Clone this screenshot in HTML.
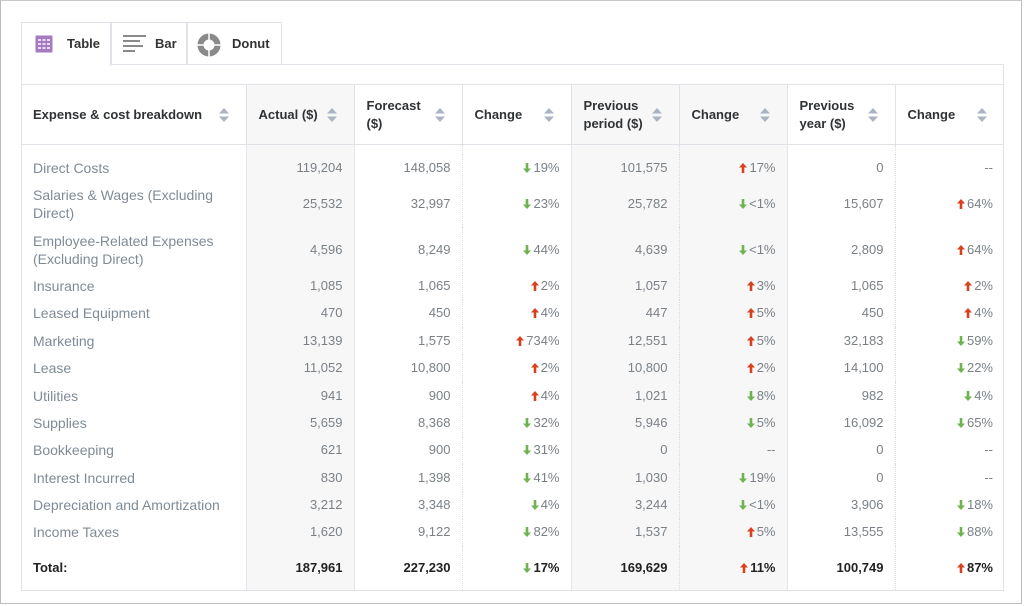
<!DOCTYPE html>
<html><head><meta charset="utf-8"><style>
*{box-sizing:border-box;margin:0;padding:0}
body{width:1024px;height:606px;background:#fff;position:relative;overflow:hidden;font-family:"Liberation Sans",sans-serif}
.frame{position:absolute;left:0;top:0;width:1022px;height:604px;border:1px solid #bdbdbd;border-top-color:#c8c8c8}
.panel{position:absolute;left:21px;top:64px;width:983px;height:527px;border:1px solid #dfe3e8}
.tab{position:absolute;top:22px;height:43px;border:1px solid #dfe3e8;border-bottom:none;background:#fff;font-size:13px;font-weight:bold;color:#333;line-height:42px}
.tab.off{border-bottom:1px solid #dfe3e8;height:43px;background:#fff}
table{position:absolute;left:21px;top:84px;width:983px;border-collapse:collapse;table-layout:fixed;font-size:13px}
th{height:60px;border-top:1px solid #dfe3e8;border-bottom:1px solid #dfe3e8;border-left:1px solid #dfe3e8;text-align:left;font-weight:bold;color:#2f3335;padding:0 30px 0 12px;position:relative;line-height:18px;font-size:13px}
th:first-child{border-left:none}
th .s{position:absolute;right:17px;top:23px;width:10px;height:14px}
td{text-align:right;color:#7a8186;padding:0 11px 0 8px;border-left:1px solid #e3e6ea;line-height:18px}
td:first-child{text-align:left;border-left:none;color:#7f8b96;padding-left:12px;padding-right:4px;font-size:14px}
td.d{border-left:1px dotted #d8dcdf}
.sh{background:#f7f7f8}
tr.t td{font-weight:bold;color:#222;height:44px}
tr.t td:first-child{font-size:13px}
.u,.dn{display:inline-block;width:8px;height:10px;margin-right:2px;vertical-align:-1px}
</style></head><body>
<div class="frame"></div>
<div class="panel"></div>
<div class="tab" style="left:21px;width:90px;border-bottom:none;height:44px">
<svg style="position:absolute;left:13px;top:12px" width="18" height="18"><rect x="0.5" y="0.5" width="17" height="17" fill="#a47bc0"/><g fill="#e9dcf2"><rect x="3" y="4" width="3" height="2"/><rect x="7.5" y="4" width="3" height="2"/><rect x="12" y="4" width="3" height="2"/><rect x="3" y="8" width="3" height="2"/><rect x="7.5" y="8" width="3" height="2"/><rect x="12" y="8" width="3" height="2"/><rect x="3" y="12" width="3" height="2"/><rect x="7.5" y="12" width="3" height="2"/><rect x="12" y="12" width="3" height="2"/></g></svg>
<span style="position:absolute;left:45px">Table</span></div>
<div class="tab off" style="left:111px;width:76px">
<svg style="position:absolute;left:11px;top:12px" width="24" height="18"><g fill="#8a8a8a"><rect x="0" y="0" width="23" height="2"/><rect x="0" y="5" width="17" height="2"/><rect x="0" y="10" width="20" height="2"/><rect x="0" y="15" width="12" height="2"/></g></svg>
<span style="position:absolute;left:43px">Bar</span></div>
<div class="tab off" style="left:187px;width:95px">
<svg style="position:absolute;left:9px;top:10px" width="24" height="24"><circle cx="12" cy="12" r="8.5" fill="none" stroke="#8a8a8a" stroke-width="6"/><g stroke="#fff" stroke-width="1.5"><line x1="12" y1="0" x2="12" y2="7"/><line x1="12" y1="17" x2="12" y2="24"/><line x1="0" y1="12" x2="7" y2="12"/><line x1="17" y1="12" x2="24" y2="12"/></g></svg>
<span style="position:absolute;left:44px">Donut</span></div>
<svg width="0" height="0" style="position:absolute"><defs>
<symbol id="up" viewBox="0 0 8 10"><path d="M4 0 L8 4.5 L5.3 4.5 L5.3 10 L2.7 10 L2.7 4.5 L0 4.5Z" fill="#d8411e"/></symbol>
<symbol id="dw" viewBox="0 0 8 10"><path d="M4 10 L8 5.5 L5.3 5.5 L5.3 0 L2.7 0 L2.7 5.5 L0 5.5Z" fill="#6fb350"/></symbol>
<symbol id="so" viewBox="0 0 10 14"><path d="M5 0 L10 5.5 L0 5.5Z M5 14 L10 8.5 L0 8.5Z" fill="#aab4c2"/></symbol>
</defs></svg>
<table>
<colgroup><col style="width:225px"><col style="width:108px"><col style="width:108px"><col style="width:109px"><col style="width:108px"><col style="width:108px"><col style="width:108px"><col style="width:109px"></colgroup>
<tr>
<th>Expense &amp; cost breakdown<svg class="s"><use href="#so"/></svg></th>
<th class="sh">Actual ($)<svg class="s"><use href="#so"/></svg></th>
<th>Forecast ($)<svg class="s"><use href="#so"/></svg></th>
<th>Change<svg class="s"><use href="#so"/></svg></th>
<th class="sh">Previous period ($)<svg class="s"><use href="#so"/></svg></th>
<th class="sh">Change<svg class="s"><use href="#so"/></svg></th>
<th>Previous year ($)<svg class="s"><use href="#so"/></svg></th>
<th>Change<svg class="s"><use href="#so"/></svg></th>
</tr>
<tr style="height:10px"><td></td><td class="sh"></td><td></td><td class="d"></td><td class="sh"></td><td class="sh d"></td><td></td><td class="d"></td></tr>
<tr style="height:27px"><td>Direct Costs</td><td class="sh">119,204</td><td>148,058</td><td class="d"><svg class="dn"><use href="#dw"/></svg>19%</td><td class="sh">101,575</td><td class="sh d"><svg class="u"><use href="#up"/></svg>17%</td><td>0</td><td class="d">--</td></tr>
<tr style="height:45px"><td>Salaries &amp; Wages (Excluding Direct)</td><td class="sh">25,532</td><td>32,997</td><td class="d"><svg class="dn"><use href="#dw"/></svg>23%</td><td class="sh">25,782</td><td class="sh d"><svg class="dn"><use href="#dw"/></svg>&lt;1%</td><td>15,607</td><td class="d"><svg class="u"><use href="#up"/></svg>64%</td></tr>
<tr style="height:46px"><td>Employee-Related Expenses (Excluding Direct)</td><td class="sh">4,596</td><td>8,249</td><td class="d"><svg class="dn"><use href="#dw"/></svg>44%</td><td class="sh">4,639</td><td class="sh d"><svg class="dn"><use href="#dw"/></svg>&lt;1%</td><td>2,809</td><td class="d"><svg class="u"><use href="#up"/></svg>64%</td></tr>
<tr style="height:27px"><td>Insurance</td><td class="sh">1,085</td><td>1,065</td><td class="d"><svg class="u"><use href="#up"/></svg>2%</td><td class="sh">1,057</td><td class="sh d"><svg class="u"><use href="#up"/></svg>3%</td><td>1,065</td><td class="d"><svg class="u"><use href="#up"/></svg>2%</td></tr>
<tr style="height:27px"><td>Leased Equipment</td><td class="sh">470</td><td>450</td><td class="d"><svg class="u"><use href="#up"/></svg>4%</td><td class="sh">447</td><td class="sh d"><svg class="u"><use href="#up"/></svg>5%</td><td>450</td><td class="d"><svg class="u"><use href="#up"/></svg>4%</td></tr>
<tr style="height:28px"><td>Marketing</td><td class="sh">13,139</td><td>1,575</td><td class="d"><svg class="u"><use href="#up"/></svg>734%</td><td class="sh">12,551</td><td class="sh d"><svg class="u"><use href="#up"/></svg>5%</td><td>32,183</td><td class="d"><svg class="dn"><use href="#dw"/></svg>59%</td></tr>
<tr style="height:27px"><td>Lease</td><td class="sh">11,052</td><td>10,800</td><td class="d"><svg class="u"><use href="#up"/></svg>2%</td><td class="sh">10,800</td><td class="sh d"><svg class="u"><use href="#up"/></svg>2%</td><td>14,100</td><td class="d"><svg class="dn"><use href="#dw"/></svg>22%</td></tr>
<tr style="height:28px"><td>Utilities</td><td class="sh">941</td><td>900</td><td class="d"><svg class="u"><use href="#up"/></svg>4%</td><td class="sh">1,021</td><td class="sh d"><svg class="dn"><use href="#dw"/></svg>8%</td><td>982</td><td class="d"><svg class="dn"><use href="#dw"/></svg>4%</td></tr>
<tr style="height:27px"><td>Supplies</td><td class="sh">5,659</td><td>8,368</td><td class="d"><svg class="dn"><use href="#dw"/></svg>32%</td><td class="sh">5,946</td><td class="sh d"><svg class="dn"><use href="#dw"/></svg>5%</td><td>16,092</td><td class="d"><svg class="dn"><use href="#dw"/></svg>65%</td></tr>
<tr style="height:27px"><td>Bookkeeping</td><td class="sh">621</td><td>900</td><td class="d"><svg class="dn"><use href="#dw"/></svg>31%</td><td class="sh">0</td><td class="sh d">--</td><td>0</td><td class="d">--</td></tr>
<tr style="height:28px"><td>Interest Incurred</td><td class="sh">830</td><td>1,398</td><td class="d"><svg class="dn"><use href="#dw"/></svg>41%</td><td class="sh">1,030</td><td class="sh d"><svg class="dn"><use href="#dw"/></svg>19%</td><td>0</td><td class="d">--</td></tr>
<tr style="height:27px"><td>Depreciation and Amortization</td><td class="sh">3,212</td><td>3,348</td><td class="d"><svg class="dn"><use href="#dw"/></svg>4%</td><td class="sh">3,244</td><td class="sh d"><svg class="dn"><use href="#dw"/></svg>&lt;1%</td><td>3,906</td><td class="d"><svg class="dn"><use href="#dw"/></svg>18%</td></tr>
<tr style="height:27px"><td>Income Taxes</td><td class="sh">1,620</td><td>9,122</td><td class="d"><svg class="dn"><use href="#dw"/></svg>82%</td><td class="sh">1,537</td><td class="sh d"><svg class="u"><use href="#up"/></svg>5%</td><td>13,555</td><td class="d"><svg class="dn"><use href="#dw"/></svg>88%</td></tr>
<tr class="t"><td>Total:</td><td class="sh">187,961</td><td>227,230</td><td class="d"><svg class="dn"><use href="#dw"/></svg>17%</td><td class="sh">169,629</td><td class="sh d"><svg class="u"><use href="#up"/></svg>11%</td><td>100,749</td><td class="d"><svg class="u"><use href="#up"/></svg>87%</td></tr>
</table>
</body></html>
